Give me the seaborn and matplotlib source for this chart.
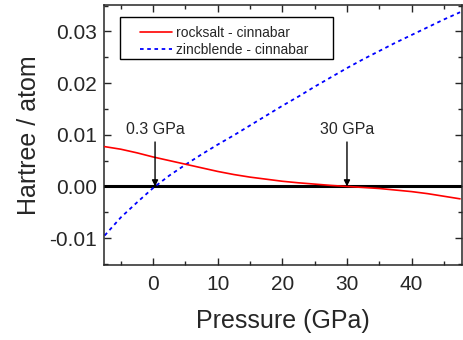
import matplotlib
matplotlib.use("Agg")
import matplotlib.pyplot as plt
import seaborn as sns
import pandas as pd
import numpy as np
from matplotlib.ticker import MultipleLocator
from matplotlib.patches import Rectangle

pressure = [-7.5, -5, -2.5, 0, 2.5, 5, 7.5, 10, 12.5, 15, 17.5, 20, 22.5, 25,
            27.5, 30, 32.5, 35, 37.5, 40, 42.5, 45, 47.5]
rocksalt = [0.0077, 0.0072, 0.0065, 0.0057, 0.0050, 0.0043, 0.0036, 0.0029,
            0.0023, 0.0018, 0.0014, 0.0010, 0.0007, 0.00045, 0.0002, 0.0,
            -0.0002, -0.0004, -0.0007, -0.0010, -0.0014, -0.0019, -0.0024]
zincblende = [-0.0095, -0.0060, -0.0031, -0.0003, 0.0021, 0.0042, 0.0062,
              0.0081, 0.0099, 0.0118, 0.0137, 0.0156, 0.0174, 0.0193, 0.0211,
              0.0229, 0.0246, 0.0262, 0.0278, 0.0293, 0.0308, 0.0323, 0.0337]
series_names = ["rocksalt - cinnabar", "zincblende - cinnabar"]
annot_labels = ["0.3 GPa", "30 GPa"]
annot_x = [0.3, 30]

sns.set_style("ticks")
plt.rcParams['font.family'] = ['Liberation Sans', 'DejaVu Sans']

df = pd.DataFrame({"P": pressure, "rs": rocksalt, "zb": zincblende})

W, H = 463, 340
fig = plt.figure(figsize=(W/100, H/100), dpi=100)
ax = fig.add_axes([104/W, 75/H, 358/W, 260/H])

ax.axhline(0, color="black", lw=2.2, zorder=1)
sns.lineplot(data=df, x="P", y="rs", ax=ax, color="#ff0000", lw=1.2,
             label=series_names[0], zorder=3)
sns.lineplot(data=df, x="P", y="zb", ax=ax, color="#0000ff", lw=1.3,
             label=series_names[1], zorder=2)
ax.lines[-1].set_linestyle((0, (2, 2)))

for lab, xv in zip(annot_labels, annot_x):
    ax.annotate(lab, xy=(xv, 0), xytext=(xv, 0.0095), ha="center", va="bottom",
                fontsize=11.5,
                arrowprops=dict(arrowstyle="-|>", color="black", lw=1,
                                mutation_scale=9, shrinkA=1, shrinkB=0))

ax.set_xlim(-7.6, 47.8)
ax.set_ylim(-0.0152, 0.0351)
ax.xaxis.set_major_locator(MultipleLocator(10))
ax.xaxis.set_minor_locator(MultipleLocator(5))
ax.yaxis.set_major_locator(MultipleLocator(0.01))
ax.yaxis.set_minor_locator(MultipleLocator(0.005))
ax.yaxis.set_major_formatter(matplotlib.ticker.FormatStrFormatter('%.2f'))
ax.tick_params(which="both", direction="in", top=True, right=True, width=1)
ax.tick_params(which="major", length=5, labelsize=15)
ax.tick_params(axis="x", which="major", pad=7)
ax.tick_params(axis="y", which="major", pad=5)
ax.tick_params(which="minor", length=3)
for s in ax.spines.values():
    s.set_linewidth(1.1)
    s.set_visible(True)

ax.set_xlabel("Pressure (GPa)", fontsize=18, labelpad=11)
ax.set_ylabel("Hartree / atom", fontsize=18, labelpad=6)

# legend (frameless) with a separately drawn box
leg = ax.legend(loc="upper left", bbox_to_anchor=((137-104)/358, (260-18)/260),
                fontsize=10, frameon=False,
                handlelength=2.3, borderpad=0.2, labelspacing=0.22,
                handletextpad=0.3, borderaxespad=0)
leg.set_zorder(6)
box = Rectangle((120/W, (H-59)/H), (333-120)/W, 42/H, transform=fig.transFigure,
                fill=True, facecolor="white", edgecolor="black", lw=1.0,
                zorder=5, clip_on=False)
ax.add_patch(box)

fig.savefig("out.png", dpi=100)
